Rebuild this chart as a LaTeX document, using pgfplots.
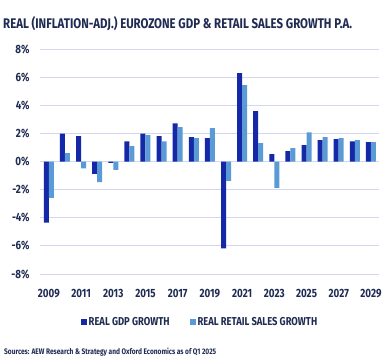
\documentclass[border=0pt]{standalone}
\usepackage{pgfplots}
\pgfplotsset{compat=1.18}
\usepackage{fontspec}
\setmainfont[FakeStretch=0.82]{Fira Sans}
\definecolor{navy}{HTML}{1F2B52}
\definecolor{gdp}{HTML}{1428A8}
\definecolor{retail}{HTML}{5B9BD5}
\definecolor{gridc}{HTML}{D3D8F0}
\begin{document}
\begin{tikzpicture}[x=1bp,y=1bp]
\useasboundingbox (0,0) rectangle (391,359);
\node[anchor=base west, inner sep=0, text=navy] at (3,331) {\resizebox{349bp}{!}{\bfseries\fontsize{15}{15}\selectfont REAL (INFLATION-ADJ.) EUROZONE GDP \& RETAIL SALES GROWTH P.A.}};
\node[anchor=base west, inner sep=0, text=navy] at (4,5) {\resizebox{212bp}{!}{\bfseries\fontsize{7.5}{7.5}\selectfont Sources: AEW Research \& Strategy and Oxford Economics as of Q1 2025}};
\begin{axis}[at={(40bp,85bp)}, anchor=south west,
  scale only axis, width=339bp, height=225bp,
  xmin=2008.45, xmax=2029.5, ymin=-8, ymax=8,
  ybar, bar width=5bp,
  axis line style={draw=none}, tick style={draw=none},
  ymajorgrids, grid style={gridc, line width=0.9bp},
  ytick={-8,-6,...,8}, xtick={2009,2011,...,2029},
  /pgf/number format/assume math mode=true,
  xticklabel style={/pgf/number format/1000 sep={}},
  yticklabel={\pgfmathprintnumber{\tick}\%},
  ticklabel style={font=\bfseries\fontsize{12}{12}\selectfont, text=navy},
  yticklabel style={xshift=-7bp},
  xticklabel style={yshift=-7bp},
  legend style={at={(0.472,-0.213)}, anchor=center, legend columns=2, draw=none, fill=none,
    font=\bfseries\fontsize{11.5}{11.5}\selectfont, text=navy,
    /tikz/every even column/.append style={column sep=18bp}},
  legend cell align=left,
]
\addplot[fill=gdp, draw=none, bar shift=-2.5bp,
  legend image code/.code={\fill[gdp] (0bp,-3bp) rectangle (6bp,3bp);}] coordinates {
(2009,-4.34) (2010,1.99) (2011,1.80) (2012,-0.88) (2013,-0.10) (2014,1.44) (2015,1.99)
(2016,1.80) (2017,2.72) (2018,1.73) (2019,1.66) (2020,-6.17) (2021,6.28) (2022,3.58)
(2023,0.52) (2024,0.73) (2025,1.16) (2026,1.52) (2027,1.59) (2028,1.44) (2029,1.37)};
\addlegendentry{REAL GDP GROWTH}
\addplot[fill=retail, draw=none, bar shift=2.5bp,
  legend image code/.code={\fill[retail] (0bp,-3bp) rectangle (6bp,3bp);}] coordinates {
(2009,-2.59) (2010,0.59) (2011,-0.48) (2012,-1.47) (2013,-0.60) (2014,1.09) (2015,1.87)
(2016,1.44) (2017,2.44) (2018,1.66) (2019,2.37) (2020,-1.38) (2021,5.43) (2022,1.30)
(2023,-1.88) (2024,0.95) (2025,2.08) (2026,1.73) (2027,1.66) (2028,1.52) (2029,1.37)};
\addlegendentry{REAL RETAIL SALES GROWTH}
\end{axis}
\end{tikzpicture}
\end{document}
